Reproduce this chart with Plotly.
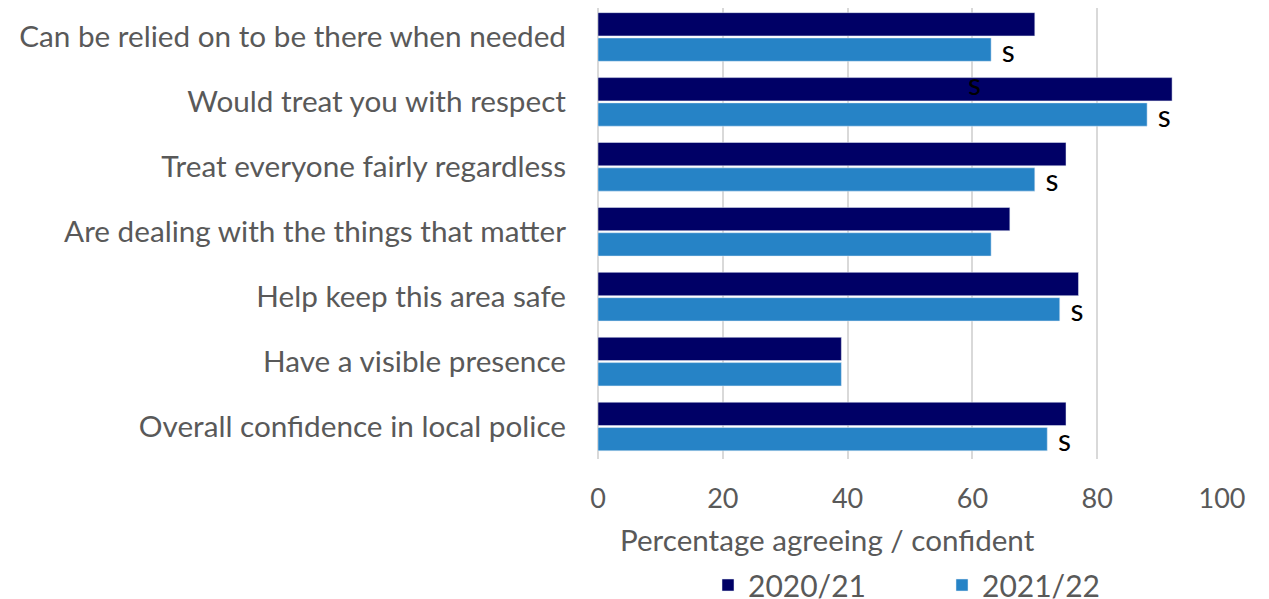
import plotly.graph_objects as go

categories = [
    "Can be relied on to be there when needed",
    "Would treat you with respect",
    "Treat everyone fairly regardless",
    "Are dealing with the things that matter",
    "Help keep this area safe",
    "Have a visible presence",
    "Overall confidence in local police",
]
values_2020 = [70, 92, 75, 66, 77, 39, 75]
values_2021 = [63, 88, 70, 63, 74, 39, 72]
sig_2021 = [" s", " s", " s", "", " s", "", " s"]
stray_label = {"text": "s", "x": 60.4, "category": "Would treat you with respect"}

FONT = "Lato"
GREY = "#595959"

# page body has an 8px offset; plot area drawn at figure coords
PLOT_H = 451.5
B = 599 - PLOT_H

fig = go.Figure()
fig.add_trace(go.Bar(
    name="2020/21", y=categories, x=values_2020, orientation="h",
    marker=dict(color="#000066"),
))
fig.add_trace(go.Bar(
    name="2021/22", y=categories, x=values_2021, orientation="h",
    marker=dict(color="#2683C6"),
    text=sig_2021, textposition="outside", cliponaxis=False, constraintext="none",
    textfont=dict(family=FONT, size=30, color="black"),
))
fig.add_annotation(
    x=stray_label["x"], y=stray_label["category"], text=stray_label["text"],
    showarrow=False, yshift=19, font=dict(family=FONT, size=30, color="black"),
)
fig.add_annotation(
    text="Percentage agreeing / confident", xref="paper", yref="paper",
    x=(827 - 598) / 624, y=(PLOT_H - 532) / PLOT_H, yanchor="middle", showarrow=False,
    font=dict(family=FONT, size=29.6, color=GREY),
)

fig.update_layout(
    width=1269, height=599,
    margin=dict(l=590, r=55, t=0, b=B, autoexpand=False),
    plot_bgcolor="white", paper_bgcolor="white",
    barmode="group", bargap=0.22, bargroupgap=0.08,
    font=dict(family=FONT, size=28, color=GREY),
    showlegend=True,
    legend=dict(
        orientation="h", xref="container", yref="container",
        x=700 / 1269, xanchor="left", y=22 / 599, yanchor="middle",
        font=dict(family=FONT, size=30, color=GREY),
        entrywidth=189, itemwidth=30, traceorder="normal",
    ),
    xaxis=dict(
        range=[0, 100], dtick=20, showgrid=True, gridcolor="#d9d9d9", gridwidth=1.5,
        zeroline=True, zerolinecolor="#d9d9d9", zerolinewidth=1.5,
        ticklabelstandoff=21, tickfont=dict(family=FONT, size=27, color=GREY),
        showline=False, automargin=False,
    ),
    yaxis=dict(
        range=[6.5, -0.446], showgrid=False, showline=False, automargin=False,
        ticklabelstandoff=31, tickfont=dict(family=FONT, size=29.7, color=GREY),
    ),
)

fig.write_html("out.html")
